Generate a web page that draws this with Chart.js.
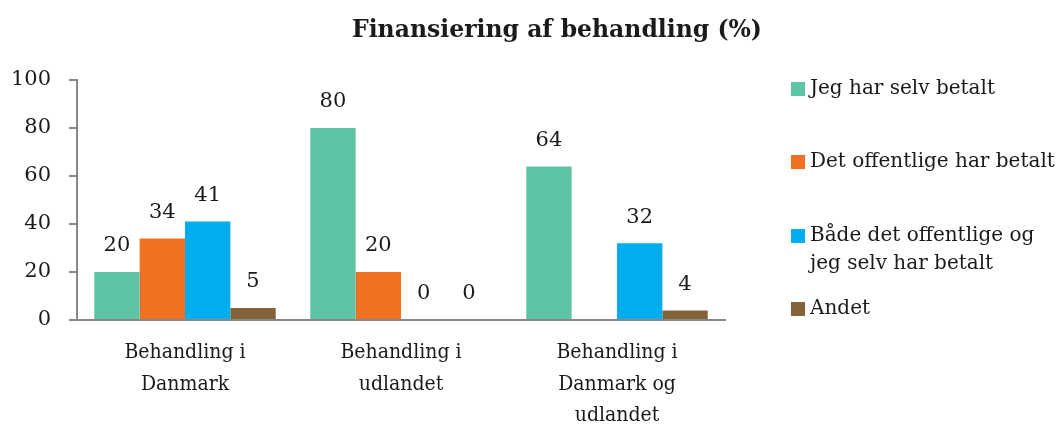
<!DOCTYPE html>
<html>
<head>
<meta charset="utf-8">
<script src="https://cdn.jsdelivr.net/npm/chart.js@4.4.1/dist/chart.umd.min.js"></script>
<style>
  html, body { margin: 0; padding: 0; background: #ffffff; }
  #wrap { width: 1063px; height: 429px; position: relative; }
</style>
</head>
<body>
<div id="wrap"><canvas id="c" width="1063" height="429"></canvas></div>
<script>
const chartTitle = 'Finansiering af behandling (%)';
const categories = [
  ['Behandling i', 'Danmark'],
  ['Behandling i', 'udlandet'],
  ['Behandling i', 'Danmark og', 'udlandet']
];
const seriesNames = [
  ['Jeg har selv betalt'],
  ['Det offentlige har betalt'],
  ['Både det offentlige og', 'jeg selv har betalt'],
  ['Andet']
];
const selfPaid = [20, 80, 64];
const publicPaid = [34, 20, null];
const bothPaid = [41, 0, 32];
const other = [5, 0, 4];
const seriesColors = ['#5fc4a6', '#f17122', '#00aeef', '#84623a'];
const yTicks = [0, 20, 40, 60, 80, 100];

const FONT = "'DejaVu Serif', serif";
const FONT_NARROW = "'DejaVu Serif Condensed', 'DejaVu Serif', serif";
const TEXT = '#1a1a1a';
const AXIS = '#878787';

// Value labels above each bar, plus title and a hand-laid legend on the right
const decorations = {
  id: 'decorations',
  afterDatasetsDraw(chart) {
    const ctx = chart.ctx;
    ctx.save();
    ctx.fillStyle = TEXT;
    ctx.font = '21px ' + FONT;
    ctx.textAlign = 'center';
    ctx.textBaseline = 'middle';
    chart.data.datasets.forEach((ds, i) => {
      const meta = chart.getDatasetMeta(i);
      meta.data.forEach((bar, j) => {
        const v = ds.data[j];
        if (v === null || v === undefined) return;
        ctx.fillText(String(v), bar.x, bar.y - 26);
      });
    });

    // title
    ctx.font = 'bold 23.5px ' + FONT;
    ctx.fillText(chartTitle, 557, 31);

    // legend
    const rowsY = [89, 162, 236, 309];
    ctx.textAlign = 'left';
    ctx.font = '20px ' + FONT;
    chart.data.datasets.forEach((ds, i) => {
      const y = rowsY[i];
      ctx.fillStyle = ds.backgroundColor;
      ctx.fillRect(791, y - 7, 14, 14);
      ctx.fillStyle = TEXT;
      seriesNames[i].forEach((line, k) => {
        ctx.fillText(line, 810, y + k * 28);
      });
    });
    ctx.restore();
  }
};

new Chart(document.getElementById('c'), {
  type: 'bar',
  data: {
    labels: categories,
    datasets: [
      { label: seriesNames[0].join(' '), data: selfPaid, backgroundColor: seriesColors[0] },
      { label: seriesNames[1].join(' '), data: publicPaid, backgroundColor: seriesColors[1] },
      { label: seriesNames[2].join(' '), data: bothPaid, backgroundColor: seriesColors[2] },
      { label: seriesNames[3].join(' '), data: other, backgroundColor: seriesColors[3] }
    ]
  },
  options: {
    responsive: false,
    animation: false,
    devicePixelRatio: 1,
    layout: { padding: { left: 0, right: 338, top: 80, bottom: 0 } },
    datasets: { bar: { barPercentage: 1, categoryPercentage: 0.84 } },
    plugins: {
      legend: { display: false },
      title: { display: false },
      tooltip: { enabled: false }
    },
    scales: {
      x: {
        grid: { display: false, drawTicks: false },
        border: { display: true, color: AXIS, width: 2 },
        ticks: {
          color: TEXT,
          font: { family: FONT_NARROW, size: 21, lineHeight: 1.5 },
          padding: 17,
          maxRotation: 0,
          autoSkip: false
        },
        afterFit(scale) { scale.height = 109; }
      },
      y: {
        min: 0,
        max: 100,
        afterBuildTicks(scale) { scale.ticks = yTicks.map(v => ({ value: v })); },
        grid: { display: true, drawOnChartArea: false, drawTicks: true, tickLength: 8, color: AXIS, lineWidth: 2 },
        border: { display: true, color: AXIS, width: 2 },
        ticks: {
          color: TEXT,
          font: { family: FONT, size: 21 },
          padding: 18
        },
        afterFit(scale) { scale.width = 77; }
      }
    }
  },
  plugins: [decorations]
});
</script>
</body>
</html>
